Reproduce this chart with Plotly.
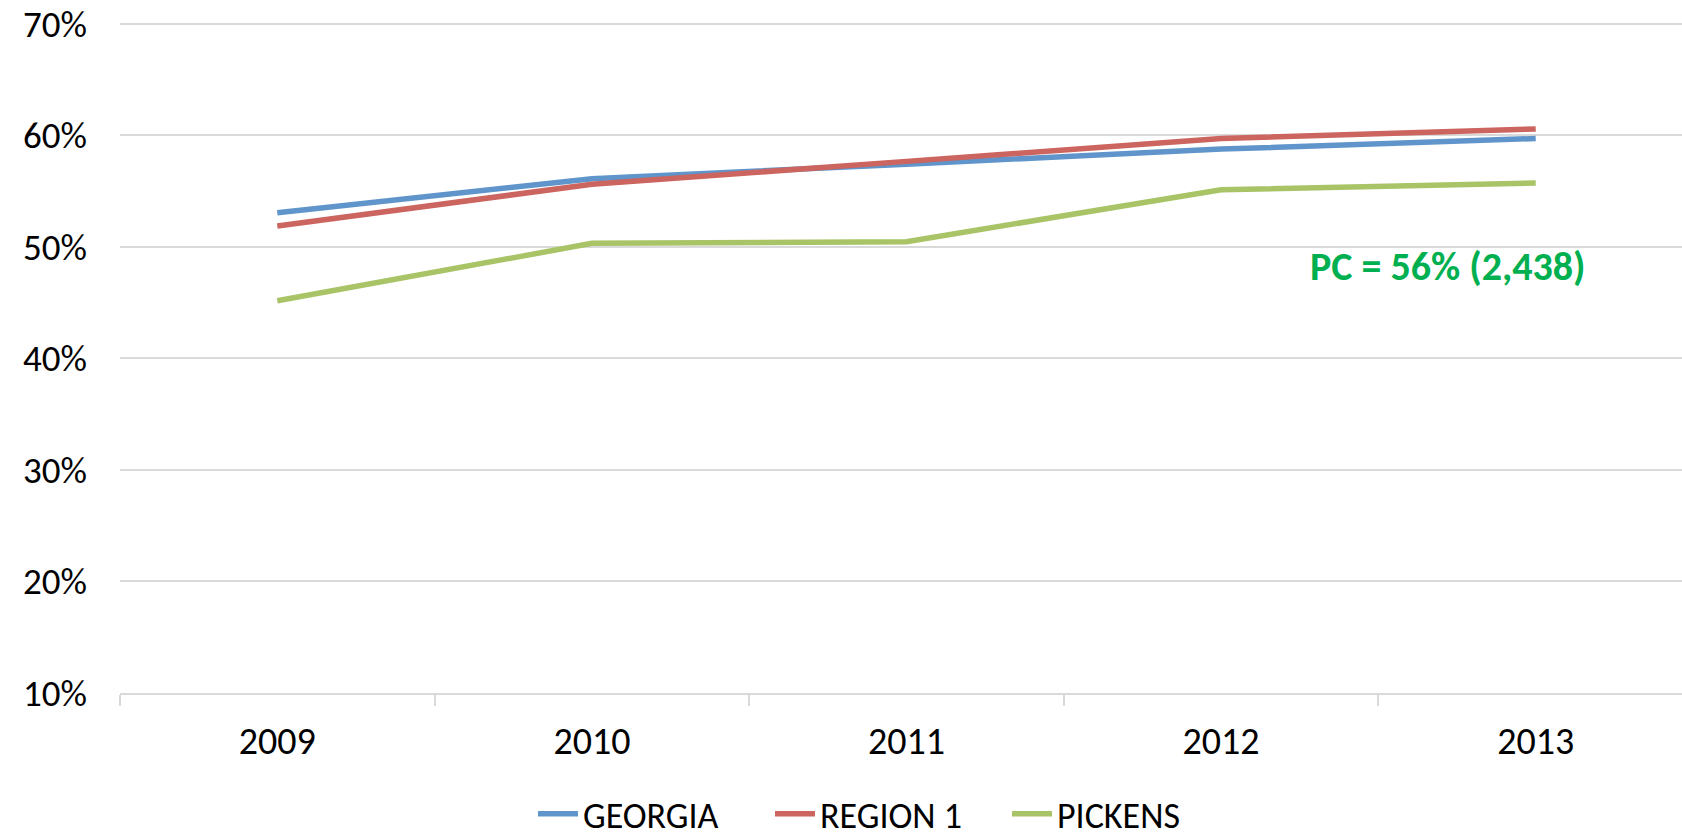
import plotly.graph_objects as go

years = ["2009", "2010", "2011", "2012", "2013"]
georgia = [0.5305, 0.561, 0.574, 0.5875, 0.597]
region1 = [0.5185, 0.556, 0.5765, 0.597, 0.6055]
pickens = [0.4515, 0.503, 0.5045, 0.551, 0.557]
series_names = ["GEORGIA", "REGION 1", "PICKENS"]
series_colors = ["#5F95CA", "#CC645F", "#A8C466"]
y_ticks = [0.1, 0.2, 0.3, 0.4, 0.5, 0.6, 0.7]
annotation_text = "PC = 56% (2,438)"

FONT = "Carlito, Calibri, Lato, sans-serif"

fig = go.Figure()
for name, vals, col in zip(series_names, [georgia, region1, pickens], series_colors):
    fig.add_trace(go.Scatter(
        x=years, y=vals, name=name, mode="lines",
        line=dict(color=col, width=5.5),
    ))

fig.add_annotation(
    x=3.72, y=0.482, xref="x", yref="y",
    text="<b>" + annotation_text + "</b>", showarrow=False,
    font=dict(family=FONT, size=40, color="#00B050"),
    xanchor="center", yanchor="middle",
)

fig.update_layout(
    width=1682, height=837,
    margin=dict(l=120, r=0, t=18, b=144, autoexpand=False),
    plot_bgcolor="white", paper_bgcolor="white",
    font=dict(family=FONT, size=37, color="#000000"),
    showlegend=True,
    legend=dict(
        orientation="h", x=0.492, xanchor="center",
        y=-0.179, yanchor="middle",
        font=dict(family=FONT, size=36, color="#000000"),
        itemwidth=40, tracegroupgap=0, entrywidth=182,
    ),
)
fig.update_xaxes(
    type="category", range=[-0.5, 4.465], automargin=False,
    showgrid=False, showline=True, linecolor="#D9D9D9", linewidth=2,
    ticks="outside", tickson="boundaries", ticklen=11, tickcolor="#D9D9D9", tickwidth=2,
    ticklabelstandoff=13,
    tickfont=dict(family=FONT, size=38, color="#000000"),
)
fig.update_yaxes(
    range=[0.1, 0.705], tickvals=y_ticks, tickformat=".0%", automargin=False,
    showgrid=True, gridcolor="#D9D9D9", gridwidth=2,
    showline=False, zeroline=False, ticks="",
    ticklabelstandoff=32,
    tickfont=dict(family=FONT, size=37, color="#000000"),
)

fig.write_html(
    "out.html",
    config={"displayModeBar": False},
    post_script="document.body.style.margin='0';document.body.style.padding='0';",
)
